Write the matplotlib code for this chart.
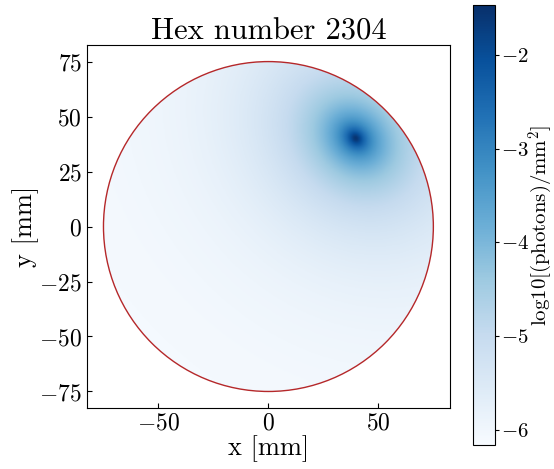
import numpy as np
import matplotlib
matplotlib.use("Agg")
import matplotlib.pyplot as plt
from matplotlib.patches import Circle

plt.rcParams["font.family"] = "serif"
plt.rcParams["font.serif"] = ["cmr10"]
plt.rcParams["mathtext.fontset"] = "cm"
plt.rcParams["axes.formatter.use_mathtext"] = True

# Hex / light-spot parameters
hex_number = 2304
hex_radius = 75.0          # mm
spot_xy = (40.0, 40.0)     # position of the bright spot, mm
peak_log = -1.55           # log10 density at the spot
floor_log = -6.15          # log10 density far from the spot
spot_height = 2.4          # mm, controls how fast the spot falls off
radial_stretch = 1.2       # halo is squeezed along the radial direction
vmin, vmax = -6.16, -1.47
xticks = [-50, 0, 50]
yticks = [-75, -50, -25, 0, 25, 50, 75]
cticks = [-6, -5, -4, -3, -2]

# density map on a fine grid
n = 400
xs = np.linspace(-hex_radius, hex_radius, n)
X, Y = np.meshgrid(xs, xs)
sx, sy = spot_xy
ur = np.array([sx, sy]) / np.hypot(sx, sy)
dx, dy = X - sx, Y - sy
d_rad = dx * ur[0] + dy * ur[1]
d_tan = -dx * ur[1] + dy * ur[0]
d2 = (radial_stretch * d_rad) ** 2 + d_tan ** 2
h2 = spot_height ** 2
dens = 10 ** peak_log * (h2 / (d2 + h2)) ** 1.5 + 10 ** floor_log
Z = np.log10(dens)

fig = plt.figure(figsize=(5.54, 4.69), dpi=100)
ax = fig.add_axes([0.157, 0.130, 0.655, 0.774])
cax = fig.add_axes([0.854, 0.051, 0.040, 0.938])

im = ax.imshow(Z, origin="lower", extent=[-hex_radius, hex_radius, -hex_radius, hex_radius],
               cmap="Blues", vmin=vmin, vmax=vmax, interpolation="bilinear")
circ = Circle((0, 0), hex_radius, fill=False, edgecolor="#b5282a", linewidth=1.0)
ax.add_patch(circ)
clip = Circle((0, 0), hex_radius, transform=ax.transData)
im.set_clip_path(clip)

lim = 1.1 * hex_radius
ax.set_xlim(-lim, lim)
ax.set_ylim(-lim, lim)
ax.set_xticks(xticks)
ax.set_yticks(yticks)
ax.tick_params(direction="in", labelsize=17)
ax.set_xlabel("x [mm]", fontsize=19, labelpad=0)
ax.set_ylabel("y [mm]", fontsize=19, labelpad=0)
ax.set_title(f"Hex number {hex_number}", fontsize=22, pad=3)

cb = fig.colorbar(im, cax=cax)
cb.set_ticks(cticks)
cb.ax.tick_params(labelsize=15, length=3, pad=1)
fig.text(0.977, 0.52, "log10[(photons)/mm$^2$]", fontsize=15,
         rotation=90, ha="center", va="center")

fig.savefig("out.png", dpi=100)
